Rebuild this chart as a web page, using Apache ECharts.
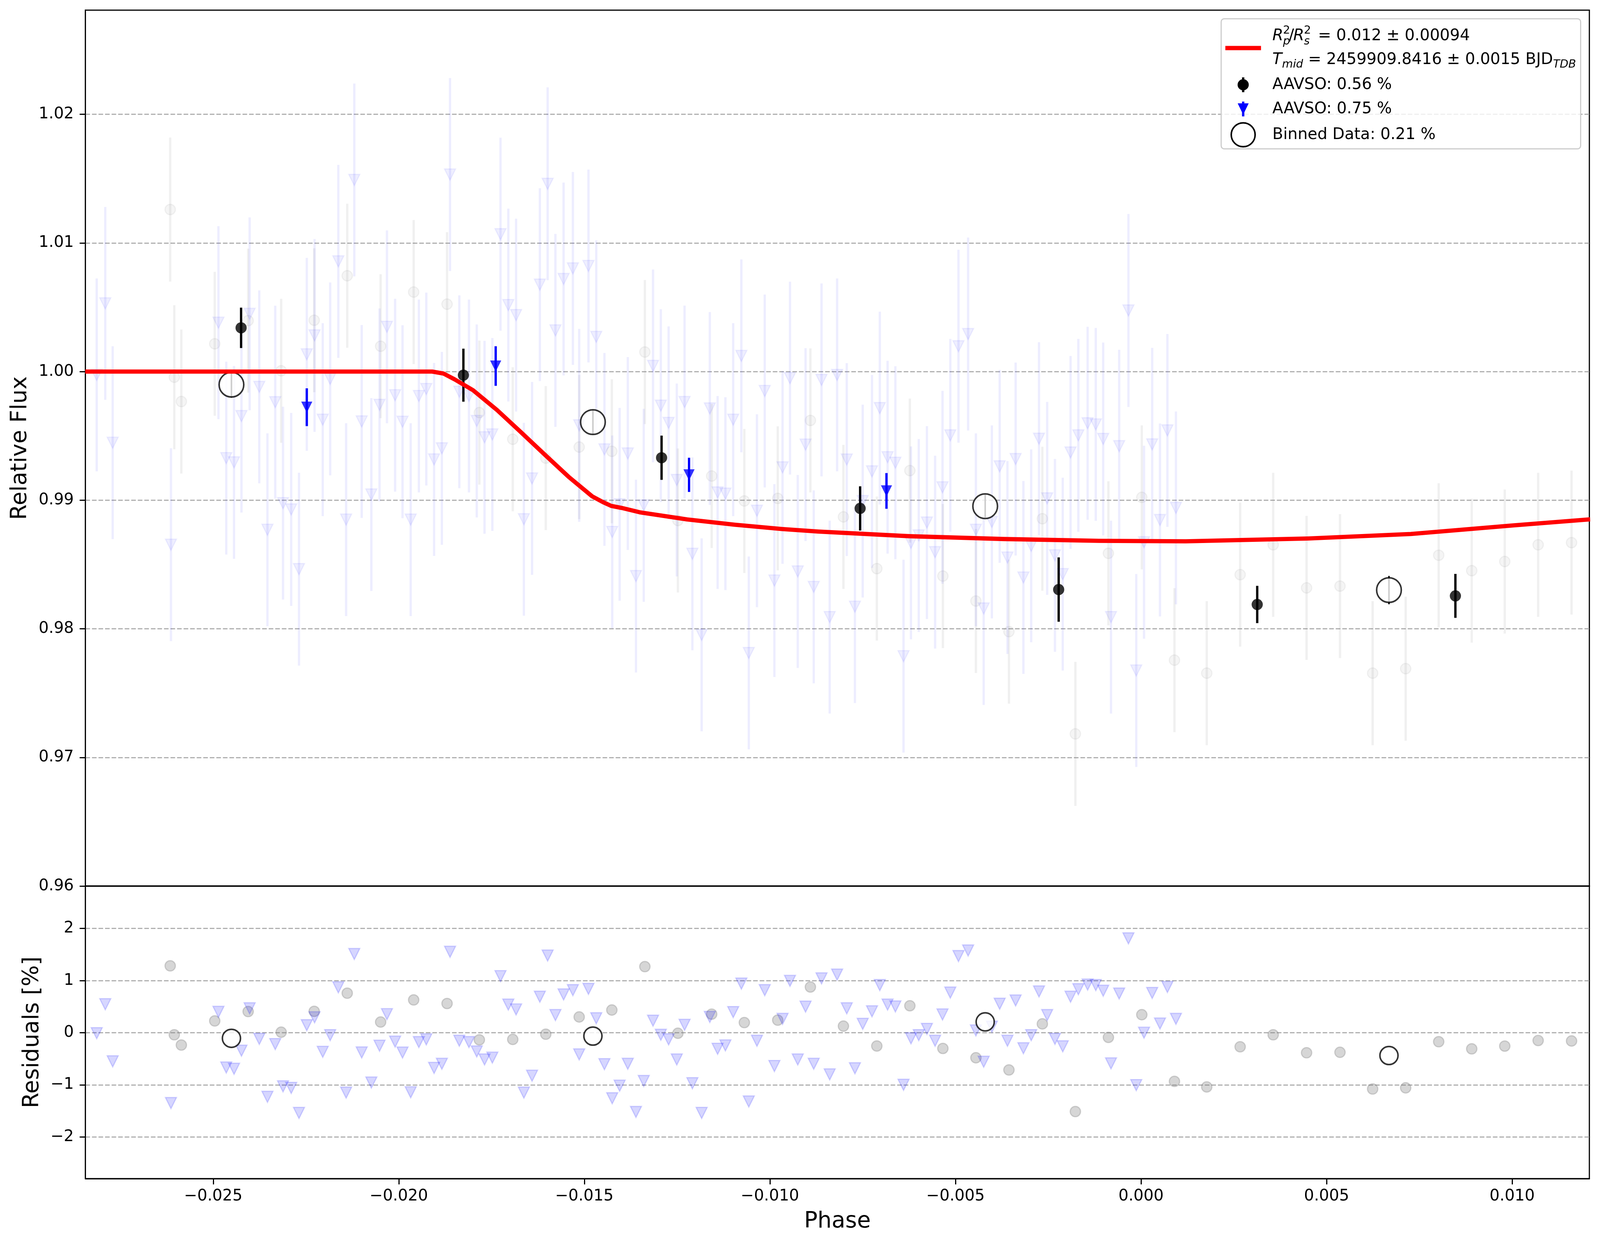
<!DOCTYPE html>
<html lang="en">
<head>
<meta charset="UTF-8">
<title>Transit fit</title>
<script src="https://cdn.jsdelivr.net/npm/echarts@6.0.0/dist/echarts.min.js"></script>
<style>
    html, body { margin: 0; padding: 0; background: #fff; overflow: hidden; }
    #container { width: 100vw; height: 100vh; }
</style>
</head>
<body>
<div id="container"></div>
<script>
    // faint unbinned points, AAVSO 0.56 % (grey circles)
    var grayPhase = [-0.02616, -0.02605, -0.02586, -0.02496, -0.02406, -0.02317, -0.02228, -0.02139, -0.02049, -0.0196,
        -0.0187, -0.01783, -0.01693, -0.01604, -0.01514, -0.01426, -0.01337, -0.01248, -0.01157, -0.01069,
        -0.00979, -0.00891, -0.00802, -0.00712, -0.00623, -0.00534, -0.00445, -0.00356, -0.00266, -0.00177,
        -0.00088, 0.00002, 0.0009, 0.00177, 0.00267, 0.00356, 0.00446, 0.00536, 0.00624, 0.00713,
        0.00802, 0.00891, 0.0098, 0.0107, 0.0116];
    var grayFlux = [1.0126, 0.99956, 0.99767, 1.00216, 1.00396, 1.00006, 1.00399, 1.00745, 1.00197, 1.00618,
        1.00524, 0.99681, 0.99474, 0.99327, 0.99413, 0.9938, 1.00152, 0.98842, 0.99188, 0.98994,
        0.99014, 0.9962, 0.9887, 0.98468, 0.9923, 0.9841, 0.98216, 0.97978, 0.98856, 0.97183,
        0.98587, 0.99022, 0.97756, 0.97655, 0.98421, 0.98653, 0.98318, 0.98332, 0.97655, 0.9769,
        0.98572, 0.98452, 0.98523, 0.98653, 0.9867];
    var grayResid = [1.283, -0.04, -0.237, 0.226, 0.406, 0.01, 0.41, 0.758, 0.205, 0.629,
        0.56, -0.137, -0.129, -0.029, 0.302, 0.435, 1.268, -0.011, 0.356, 0.194,
        0.241, 0.877, 0.126, -0.255, 0.517, -0.302, -0.481, -0.715, 0.169, -1.513,
        -0.09, 0.345, -0.934, -1.04, -0.27, -0.04, -0.385, -0.376, -1.08, -1.058,
        -0.173, -0.31, -0.257, -0.15, -0.159];
    var grayErr = 0.0056;

    // faint unbinned points, AAVSO 0.75 % (blue triangles)
    var bluePhase = [-0.02814, -0.02791, -0.02771, -0.02614, -0.02486, -0.02465, -0.02444, -0.02424, -0.02402, -0.02376,
        -0.02354, -0.02333, -0.02312, -0.0229, -0.02269, -0.02248, -0.02227, -0.02205, -0.02185, -0.02163,
        -0.02142, -0.0212, -0.021, -0.02074, -0.02052, -0.02032, -0.0201, -0.0199, -0.01968, -0.01946,
        -0.01926, -0.01905, -0.01884, -0.01862, -0.01837,
        -0.01811, -0.0179, -0.01769, -0.01748, -0.01726, -0.01705, -0.01684, -0.01663, -0.01641, -0.0162,
        -0.01599, -0.01578, -0.01556, -0.01531, -0.01514, -0.01489, -0.01468, -0.01446, -0.01425, -0.01405,
        -0.01383, -0.01361, -0.0134, -0.01315, -0.01294, -0.01273, -0.01251, -0.0123, -0.01209, -0.01184,
        -0.01162, -0.01141, -0.0112, -0.01099, -0.01077, -0.01057, -0.01035, -0.01014, -0.00988, -0.00966,
        -0.00946, -0.00925, -0.00904, -0.00882, -0.00861, -0.00839,
        -0.00819, -0.00793, -0.00771, -0.0075, -0.00725, -0.00704, -0.00683, -0.00662, -0.0064, -0.0062,
        -0.00599, -0.00577, -0.00555, -0.00535, -0.00514, -0.00492, -0.00466, -0.00445, -0.00424, -0.00402,
        -0.00381, -0.0036, -0.00338, -0.00317, -0.00296, -0.00275, -0.00253, -0.00232, -0.00211, -0.0019,
        -0.00169, -0.00144, -0.00122, -0.00102, -0.00081, -0.00059, -0.00034, -0.00013, 0.00008, 0.0003,
        0.00051, 0.00071, 0.00094];
    var blueFlux = [0.99974, 1.0053, 0.99447, 0.98654, 1.0038, 0.99327, 0.99294, 0.99654, 1.00449, 0.99881,
        0.9877, 0.99762, 0.98977, 0.98928, 0.98464, 1.00134, 1.00281, 0.99626, 0.99943, 1.00857,
        0.98849, 1.0149, 0.99612, 0.99044, 0.99741, 1.00348, 0.99816, 0.9961, 0.98849, 0.9981,
        0.99864, 0.99317, 0.99403, 1.01532, 0.99843,
        0.9981, 0.99616, 0.99489, 0.99511, 1.01068, 1.00517, 1.00439, 0.98852, 0.99169, 1.00676,
        1.0146, 1.0032, 1.0072, 1.00802, 0.99582, 1.00821, 1.0027, 0.99395, 0.98753, 0.98968,
        0.99363, 0.9841, 0.9896, 1.00044, 0.99735, 0.99601, 0.99157, 0.99763, 0.98583, 0.97953,
        0.99713, 0.9906, 0.99051, 0.99626, 1.00122, 0.97812, 0.98918, 0.99849, 0.98375, 0.99255,
        0.99949, 0.98446, 0.99432, 0.98326, 0.99935, 0.98091,
        0.99974, 0.99316, 0.98172, 0.98993, 0.99224, 0.99716, 0.99334, 0.99291, 0.97787, 0.98668,
        0.98726, 0.98826, 0.98596, 0.991, 0.99504, 1.00197, 1.00292, 0.9877, 0.98158, 0.98831,
        0.99263, 0.98554, 0.9932, 0.98399, 0.98645, 0.99478, 0.99014, 0.98571, 0.98425, 0.99371,
        0.99504, 0.99598, 0.99589, 0.99476, 0.98091, 0.9942, 1.00475, 0.97676, 0.98673, 0.99434,
        0.98846, 0.99542, 0.9894];
    var blueResid = [-0.01, 0.546, -0.55, -1.35, 0.40, -0.668, -0.693, -0.345, 0.467, -0.119,
        -1.23, -0.219, -1.03, -1.06, -1.54, 0.144, 0.295, -0.367, -0.047, 0.87,
        -1.15, 1.51, -0.38, -0.956, -0.25, 0.356, -0.172, -0.381, -1.143, -0.18,
        -0.129, -0.676, -0.596, 1.552, -0.154,
        -0.18, -0.36, -0.514, -0.478, 1.085, 0.539, 0.446, -1.15, -0.826, 0.69,
        1.48, 0.338, 0.733, 0.816, -0.417, 0.841, 0.277, -0.604, -1.258, -1.017,
        -0.596, -1.52, -0.927, 0.23, -0.04, -0.129, -0.514, 0.151, -0.97, -1.54,
        0.302, -0.309, -0.244, 0.395, 0.941, -1.32, -0.155, 0.816, -0.64, 0.266,
        0.995, -0.514, 0.5, -0.596, 1.042, -0.80,
        1.114, 0.467, -0.683, 0.169, 0.41, 0.913, 0.539, 0.503, -1.0, -0.108,
        -0.047, 0.072, -0.155, 0.349, 0.769, 1.47, 1.577, 0.043, -0.557, 0.115,
        0.555, -0.155, 0.618, -0.298, -0.047, 0.791, 0.338, -0.119, -0.262, 0.69,
        0.834, 0.923, 0.913, 0.805, -0.589, 0.751, 1.81, -1.006, 0.0, 0.762,
        0.176, 0.877, 0.266];
    var blueErr = 0.0075;

    // binned per dataset
    var aavsoPhase = [-0.02425, -0.01826, -0.01292, -0.00757, -0.00222, 0.00313, 0.00847];
    var aavsoFlux = [1.0034, 0.99972, 0.9933, 0.98936, 0.98305, 0.98189, 0.98256];
    var aavsoErr = [0.00157, 0.00206, 0.00172, 0.00172, 0.0025, 0.00145, 0.00171];

    var aavso2Phase = [-0.02248, -0.01739, -0.01218, -0.00686];
    var aavso2Flux = [0.99723, 1.00043, 0.99197, 0.99072];
    var aavso2Err = [0.00147, 0.00154, 0.00133, 0.00139];

    // binned data, all sets
    var binPhase = [-0.02451, -0.01477, -0.0042, 0.00668];
    var binFlux = [0.99898, 0.99607, 0.98953, 0.98301];
    var binErr = [0.001, 0.0009, 0.0009, 0.0011];
    var binResid = [-0.108, -0.065, 0.208, -0.438];

    // fitted transit model
    var modelPhase = [-0.02845, -0.0191, -0.0188, -0.0185, -0.018, -0.01735, -0.01671, -0.01607, -0.01543, -0.01479,
        -0.0145, -0.01428, -0.014, -0.01351, -0.01223, -0.01095, -0.00968, -0.0087, -0.00625, -0.0037,
        -0.00113, 0.0012, 0.00451, 0.00727, 0.01003, 0.0121];
    var modelFlux = [1.0, 1.0, 0.99985, 0.9994, 0.99855, 0.997, 0.99529, 0.99355, 0.99183, 0.9903,
        0.98985, 0.98956, 0.9894, 0.98906, 0.9885, 0.98809, 0.98776, 0.98756, 0.9872, 0.98698,
        0.98684, 0.9868, 0.98702, 0.98737, 0.98804, 0.98851];

    // tick labels
    var phaseTicks = [-0.025, -0.02, -0.015, -0.01, -0.005, 0, 0.005, 0.01];
    var fluxTicks = [0.96, 0.97, 0.98, 0.99, 1.0, 1.01, 1.02];
    var residTicks = [-2, -1, 0, 1, 2];

    var FONT = 'DejaVu Sans';
    var X_MIN = -0.028445, X_MAX = 0.01208;

    var chart = echarts.init(document.getElementById('container'));

    // layout was measured on a 4215 x 3192 canvas; scale to whatever we got
    var kx = chart.getWidth() / 4215;
    var ky = chart.getHeight() / 3192;
    var kf = Math.sqrt(kx * ky);
    function X(v) { return v * kx; }
    function Y(v) { return v * ky; }
    function F(v) { return v * kf; }

    function pairs(px, py) {
        return px.map(function (p, i) { return [p, py[i]]; });
    }

    function errData(px, py, err) {
        return px.map(function (p, i) {
            var e = Array.isArray(err) ? err[i] : err;
            return [p, py[i] - e, py[i] + e];
        });
    }

    function errSeries(data, color, width, idx) {
        return {
            type: 'custom',
            xAxisIndex: idx,
            yAxisIndex: idx,
            clip: true,
            silent: true,
            data: data,
            renderItem: function (params, api) {
                var a = api.coord([api.value(0), api.value(1)]);
                var b = api.coord([api.value(0), api.value(2)]);
                return {
                    type: 'line',
                    shape: { x1: a[0], y1: a[1], x2: b[0], y2: b[1] },
                    style: { stroke: color, lineWidth: F(width) }
                };
            }
        };
    }

    function minusFmt(digits) {
        return function (v) {
            return (v < 0 ? '\u2212' : '') + Math.abs(v).toFixed(digits);
        };
    }

    var gridLine = { show: true, lineStyle: { color: '#b0b0b0', width: F(3), type: [F(12), F(5)] } };
    var tickStyle = { color: '#000', width: F(3) };
    var labelStyle = { color: '#000', fontSize: F(41), fontFamily: FONT };
    var nameStyle = { color: '#000', fontSize: F(58), fontFamily: FONT };

    function txt(x, y, text, size, italic, align) {
        return {
            type: 'text', z: 101, x: X(x), y: Y(y),
            style: {
                text: text, fontSize: F(size), fontFamily: FONT,
                fontStyle: italic ? 'italic' : 'normal',
                fill: '#000', align: align || 'left', verticalAlign: 'middle'
            }
        };
    }

    var legend = [
        {
            type: 'rect', z: 100,
            shape: { x: X(3217), y: Y(48), width: X(947), height: Y(333), r: F(8) },
            style: { fill: 'rgba(255,255,255,0.8)', stroke: '#cccccc', lineWidth: F(3) }
        },
        { type: 'line', z: 101, shape: { x1: X(3228), y1: Y(123), x2: X(3322), y2: Y(123) }, style: { stroke: '#ff0000', lineWidth: F(11) } },
        txt(3352, 92, 'R', 41, true),
        txt(3380, 79, '2', 29, false),
        txt(3380, 107, 'p', 29, true),
        txt(3395, 92, '/', 41, false),
        txt(3407, 92, 'R', 41, true),
        txt(3435, 79, '2', 29, false),
        txt(3435, 107, 's', 29, true),
        txt(3472, 92, '= 0.012 \u00b1 0.00094', 41, false),
        {
            type: 'text', z: 101, x: X(3352), y: Y(153),
            style: {
                text: '{it|T}{sub|mid} = 2459909.8416 \u00b1 0.0015 BJD{sub|TDB}',
                fontSize: F(41), fontFamily: FONT, fill: '#000',
                verticalAlign: 'middle', lineHeight: F(54),
                rich: {
                    it: { fontStyle: 'italic', fontSize: F(41), fontFamily: FONT, lineHeight: F(54) },
                    sub: { fontStyle: 'italic', fontSize: F(29), fontFamily: FONT, lineHeight: F(29), verticalAlign: 'bottom' }
                }
            }
        },
        { type: 'line', z: 101, shape: { x1: X(3275), y1: Y(198), x2: X(3275), y2: Y(236) }, style: { stroke: '#000', lineWidth: F(6) } },
        { type: 'circle', z: 101, shape: { cx: X(3275), cy: Y(217), r: F(14.5) }, style: { fill: '#000' } },
        txt(3352, 217, 'AAVSO: 0.56 %', 41, false),
        { type: 'line', z: 101, shape: { x1: X(3275), y1: Y(260), x2: X(3275), y2: Y(298) }, style: { stroke: '#0000ff', lineWidth: F(6) } },
        {
            type: 'polygon', z: 101,
            shape: { points: [[X(3260.5), Y(264.5)], [X(3289.5), Y(264.5)], [X(3275), Y(293.5)]] },
            style: { fill: '#0000ff' }
        },
        txt(3352, 279, 'AAVSO: 0.75 %', 41, false),
        { type: 'circle', z: 101, shape: { cx: X(3275), cy: Y(345), r: F(31) }, style: { fill: '#fff', stroke: '#000', lineWidth: F(4) } },
        txt(3352, 345, 'Binned Data: 0.21 %', 41, false)
    ];

    var option = {
        backgroundColor: '#fff',
        animation: false,
        textStyle: { fontFamily: FONT },
        grid: [
            { left: X(225), top: Y(26), width: X(3962), height: Y(2242), show: true, borderColor: '#000', borderWidth: F(3), backgroundColor: 'transparent' },
            { left: X(225), top: Y(2268), width: X(3962), height: Y(749), show: true, borderColor: '#000', borderWidth: F(3), backgroundColor: 'transparent' }
        ],
        xAxis: [
            {
                gridIndex: 0, type: 'value', min: X_MIN, max: X_MAX,
                axisLine: { show: true, onZero: false, lineStyle: tickStyle }, axisTick: { show: false },
                axisLabel: { show: false }, splitLine: { show: false }
            },
            {
                gridIndex: 1, type: 'value', min: X_MIN, max: X_MAX,
                axisLine: { show: true, onZero: false, lineStyle: tickStyle },
                axisTick: { show: true, length: F(15), lineStyle: tickStyle, customValues: phaseTicks },
                axisLabel: Object.assign({ customValues: phaseTicks, margin: F(26), formatter: minusFmt(3) }, labelStyle),
                splitLine: { show: false },
                name: 'Phase', nameLocation: 'middle', nameGap: Y(82), nameTextStyle: nameStyle
            }
        ],
        yAxis: [
            {
                gridIndex: 0, type: 'value', min: 0.96, max: 1.0281,
                axisLine: { show: true, onZero: false, lineStyle: tickStyle },
                axisTick: { show: true, length: F(15), lineStyle: tickStyle, customValues: fluxTicks },
                axisLabel: Object.assign({ customValues: fluxTicks, margin: F(30), formatter: function (v) { return v.toFixed(2); } }, labelStyle),
                splitLine: gridLine,
                name: 'Relative Flux', nameLocation: 'middle', nameRotate: 90, nameGap: X(142), nameTextStyle: nameStyle
            },
            {
                gridIndex: 1, type: 'value', min: -2.8, max: 2.814,
                axisLine: { show: true, onZero: false, lineStyle: tickStyle },
                axisTick: { show: true, length: F(15), lineStyle: tickStyle, customValues: residTicks },
                axisLabel: Object.assign({ customValues: residTicks, margin: F(30), formatter: minusFmt(0) }, labelStyle),
                splitLine: gridLine,
                name: 'Residuals [%]', nameLocation: 'middle', nameRotate: 90, nameGap: X(110), nameTextStyle: nameStyle
            }
        ],
        series: [
            // upper panel
            errSeries(errData(grayPhase, grayFlux, grayErr), 'rgba(128,128,128,0.12)', 6, 0),
            {
                type: 'scatter', xAxisIndex: 0, yAxisIndex: 0, silent: true,
                symbol: 'circle', symbolSize: F(27), data: pairs(grayPhase, grayFlux),
                itemStyle: { color: 'rgba(128,128,128,0.1)', borderColor: 'rgba(128,128,128,0.12)', borderWidth: F(3) }
            },
            errSeries(errData(bluePhase, blueFlux, blueErr), 'rgba(0,0,255,0.07)', 6, 0),
            {
                type: 'scatter', xAxisIndex: 0, yAxisIndex: 0, silent: true,
                symbol: 'triangle', symbolRotate: 180, symbolSize: F(29), data: pairs(bluePhase, blueFlux),
                itemStyle: { color: 'rgba(0,0,255,0.08)', borderColor: 'rgba(0,0,255,0.08)', borderWidth: F(3) }
            },
            {
                type: 'line', xAxisIndex: 0, yAxisIndex: 0, silent: true,
                data: pairs(modelPhase, modelFlux), showSymbol: false, smooth: false,
                lineStyle: { color: '#ff0000', width: F(11), join: 'round' }
            },
            errSeries(errData(aavsoPhase, aavsoFlux, aavsoErr), '#000', 6, 0),
            {
                type: 'scatter', xAxisIndex: 0, yAxisIndex: 0, silent: true,
                symbol: 'circle', symbolSize: F(29), data: pairs(aavsoPhase, aavsoFlux),
                itemStyle: { color: '#000' }
            },
            errSeries(errData(aavso2Phase, aavso2Flux, aavso2Err), '#0000ff', 6, 0),
            {
                type: 'scatter', xAxisIndex: 0, yAxisIndex: 0, silent: true,
                symbol: 'triangle', symbolRotate: 180, symbolSize: F(29), data: pairs(aavso2Phase, aavso2Flux),
                itemStyle: { color: '#0000ff' }
            },
            errSeries(errData(binPhase, binFlux, binErr), '#000', 4, 0),
            {
                type: 'scatter', xAxisIndex: 0, yAxisIndex: 0, silent: true,
                symbol: 'circle', symbolSize: F(64), data: pairs(binPhase, binFlux),
                itemStyle: { color: '#fff', borderColor: '#000', borderWidth: F(4) }
            },
            // residual panel
            {
                type: 'scatter', xAxisIndex: 1, yAxisIndex: 1, silent: true,
                symbol: 'circle', symbolSize: F(27), data: pairs(grayPhase, grayResid),
                itemStyle: { color: 'rgba(128,128,128,0.4)', borderColor: 'rgba(128,128,128,0.4)', borderWidth: F(3) }
            },
            {
                type: 'scatter', xAxisIndex: 1, yAxisIndex: 1, silent: true,
                symbol: 'triangle', symbolRotate: 180, symbolSize: F(29), data: pairs(bluePhase, blueResid),
                itemStyle: { color: 'rgba(0,0,255,0.2)', borderColor: 'rgba(0,0,255,0.2)', borderWidth: F(3) }
            },
            {
                type: 'scatter', xAxisIndex: 1, yAxisIndex: 1, silent: true,
                symbol: 'circle', symbolSize: F(47), data: pairs(binPhase, binResid),
                itemStyle: { color: '#fff', borderColor: '#000', borderWidth: F(4) }
            }
        ],
        graphic: legend
    };

    chart.setOption(option);
</script>
</body>
</html>
